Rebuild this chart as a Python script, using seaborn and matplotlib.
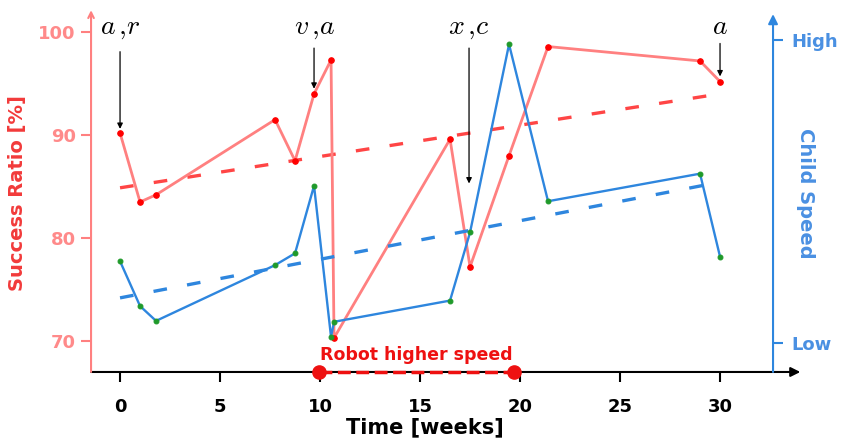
import numpy as np
import pandas as pd
import matplotlib
matplotlib.use("Agg")
import matplotlib.pyplot as plt
import seaborn as sns

# Weekly sessions
weeks = [0, 1, 1.8, 7.75, 8.75, 9.7, 10.55, 10.7, 16.5, 17.5, 19.45, 21.4, 29, 30]
success_ratio = [90.2, 83.5, 84.2, 91.5, 87.5, 94.0, 97.3, 70.3, 89.6, 77.2, 88.0, 98.6, 97.2, 95.2]
# Child speed on a normalised scale (0 = Low, 1 = High)
child_speed = [0.270, 0.122, 0.073, 0.257, 0.296, 0.519, 0.020, 0.070,
               0.140, 0.365, 0.986, 0.468, 0.559, 0.285]

# Period in which the robot ran at the higher speed
robot_fast_weeks = [9.95, 19.7]

# Event markers above the curves
event_labels = [r"$a\,{,}r$", r"$v\,{,}a$", r"$x\,{,}c$", r"$a$"]
event_weeks = [0, 9.7, 17.45, 30]
event_arrow_tail = [98.1, 98.45, 98.45, 98.9]
event_arrow_tip = [90.6, 94.5, 85.3, 95.7]

speed_ticks = [0, 1]
speed_ticklabels = ["Low", "High"]
week_ticks = [0, 5, 10, 15, 20, 25, 30]
ratio_ticks = [70, 80, 90, 100]

df = pd.DataFrame({"week": weeks, "ratio": success_ratio, "speed": child_speed})

sns.set_style("white")
plt.rcParams["mathtext.fontset"] = "cm"
plt.rcParams["font.family"] = ["DejaVu Sans"]

RED_LINE = "#ff8080"
RED_TICK = "#ff8a8a"
RED_LABEL = "#f23a3a"
RED_TREND = "#ff4545"
BLUE = "#2e86de"
BLUE_TEXT = "#4a90e2"

fig = plt.figure(figsize=(8.43, 4.41), dpi=100)
ax = fig.add_axes([0.108, 0.1565, 0.809, 0.8115])
ax2 = ax.twinx()

trend_style = dict(lw=2.4, linestyle=(0, (4.10, 6.13)), dash_capstyle="butt")

# Success ratio curve and its linear trend
sns.lineplot(data=df, x="week", y="ratio", ax=ax, color=RED_LINE, lw=2.0,
             marker="o", markersize=4, markerfacecolor="red",
             markeredgecolor="red", zorder=3)
sns.regplot(data=df, x="week", y="ratio", ax=ax, scatter=False, ci=None,
            line_kws=dict(color=RED_TREND, **trend_style))

# Child speed curve and its linear trend
sns.lineplot(data=df, x="week", y="speed", ax=ax2, color=BLUE, lw=1.7,
             marker="o", markersize=3.5, markerfacecolor="#1f9a2a",
             markeredgecolor="#1f9a2a", zorder=3)
sns.regplot(data=df, x="week", y="speed", ax=ax2, scatter=False, ci=None,
            line_kws=dict(color=BLUE, **trend_style))

ax.set_xlim(-1.45, 32.65)
ax.set_ylim(66.99, 101.75)
ax2.set_ylim(-0.0957, 1.0858)

# Robot higher-speed interval on the time axis
ax.plot(robot_fast_weeks, [66.99, 66.99], color="#ee1111", lw=2.5, ls="--",
        marker="o", markersize=9.5, clip_on=False, zorder=6)
ax.text(np.mean(robot_fast_weeks), 68.6, "Robot higher speed", color="#ee1111",
        fontsize=12.5, fontweight="bold", ha="center", va="center")

# Event annotations
for lab, wk, tail, tip in zip(event_labels, event_weeks, event_arrow_tail, event_arrow_tip):
    ax.annotate("", xy=(wk, tip), xytext=(wk, tail),
                arrowprops=dict(arrowstyle="-|>", color="black", lw=0.9,
                                mutation_scale=8, shrinkA=0, shrinkB=0))
    ax.text(wk, 99.8, lab, fontsize=20, ha="center", va="baseline", color="black")

# Axes, spines and arrows
for s in ["top", "right", "left", "bottom"]:
    ax.spines[s].set_visible(False)
    ax2.spines[s].set_visible(False)

ax.annotate("", xy=(1.04, 0), xytext=(0, 0), xycoords="axes fraction",
            arrowprops=dict(arrowstyle="-|>", color="black", lw=1.5,
                            mutation_scale=14, shrinkA=0, shrinkB=0))
ax.annotate("", xy=(0, 1.011), xytext=(0, 0), xycoords="axes fraction",
            arrowprops=dict(arrowstyle="->", color=RED_LINE, lw=1.5,
                            mutation_scale=10, shrinkA=0, shrinkB=0))
ax2.annotate("", xy=(1, 1.0), xytext=(1, 0), xycoords="axes fraction",
             arrowprops=dict(arrowstyle="-|>", color=BLUE, lw=1.5,
                             mutation_scale=14, shrinkA=0, shrinkB=0))

ax.set_xticks(week_ticks)
ax.set_yticks(ratio_ticks)
ax2.set_yticks(speed_ticks)
ax2.set_yticklabels(speed_ticklabels)

ax.tick_params(axis="x", direction="out", length=7.5, width=1.5, color="black",
               labelcolor="black", pad=11, labelsize=13, bottom=True)
ax.tick_params(axis="y", direction="out", length=7.5, width=1.5, color=RED_LINE,
               labelcolor=RED_TICK, pad=3.5, labelsize=13, left=True)
ax2.tick_params(axis="y", direction="out", length=7.5, width=1.5, color=BLUE,
                labelcolor=BLUE_TEXT, pad=6, labelsize=13, right=True)
for lbl in ax.get_xticklabels() + ax.get_yticklabels() + ax2.get_yticklabels():
    lbl.set_fontweight("bold")

ax.set_xlabel("Time [weeks]", fontsize=15, fontweight="bold", color="black")
ax.xaxis.set_label_coords(0.489, -0.127)
ax.set_ylabel("Success Ratio [%]", fontsize=14, fontweight="bold", color=RED_LABEL, labelpad=8)
ax2.set_ylabel("Child Speed", fontsize=14, fontweight="bold", color=BLUE_TEXT,
               rotation=270, va="center")
ax2.yaxis.set_label_coords(1.047, 0.5)

fig.savefig("out.png", dpi=100)
